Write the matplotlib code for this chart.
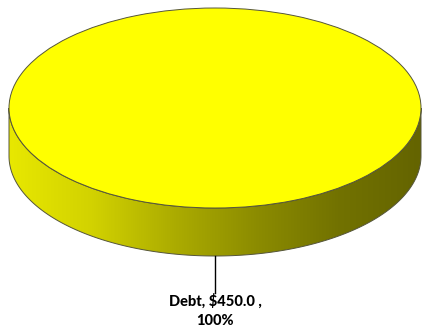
import numpy as np
import matplotlib.pyplot as plt
from matplotlib.patches import Wedge, Polygon
from matplotlib.transforms import Affine2D
from matplotlib.colors import LinearSegmentedColormap

# Data
labels = ['Debt']
values = [450.0]
colors = ['#FFFF00']

# Geometry of the 3-D pie (pixel units, y grows downward)
cx, cy = 215, 108
rx, ry = 206, 100
depth = 48

fig = plt.figure(figsize=(4.22, 3.33), dpi=100)
ax = fig.add_axes([0, 0, 1, 1])
ax.set_xlim(0, 422)
ax.set_ylim(333, 0)
ax.axis('off')

ellipse = Affine2D().scale(rx, ry).translate(cx, cy) + ax.transData

# shaded side wall under the front half of the pie
t = np.linspace(0, np.pi, 200)
top_x = cx + rx * np.cos(t)
top_y = cy + ry * np.sin(t)
side = np.vstack([np.column_stack([top_x, top_y]),
                  np.column_stack([top_x[::-1], top_y[::-1] + depth])])
side_patch = Polygon(side, closed=True, facecolor='none', edgecolor='#55553a',
                     linewidth=0.7, zorder=3)
ax.add_patch(side_patch)
shade = LinearSegmentedColormap.from_list(
    'side', ['#E8E800', '#D2D200', '#ACAC00', '#8C8C00', '#727200', '#646400'])
grad = ax.imshow(np.linspace(0, 1, 256)[None, :], cmap=shade, aspect='auto',
                 extent=(cx - rx, cx + rx, cy + ry + depth, cy), zorder=2)
grad.set_clip_path(side_patch)

# top faces, one wedge per value
total = sum(values)
start = 90.0
for lab, val, col in zip(labels, values, colors):
    span = 360.0 * val / total
    w = Wedge((0, 0), 1, start, start + span, facecolor=col,
              edgecolor='#55553a', linewidth=0.7, transform=ellipse, zorder=4)
    ax.add_patch(w)

    # leader line and data label below the front edge
    ly = cy + ry + depth
    ax.plot([cx, cx], [ly, ly + 37], color='black', linewidth=1, zorder=5)
    ax.text(cx, ly + 38, f'{lab}, ${val:.1f} ,\n{100 * val / total:.0f}%',
            ha='center', va='top', fontsize=10.5, fontweight='black',
            family='Lato', linespacing=1.45, zorder=5)
    start += span

fig.savefig('out.png', dpi=100)
